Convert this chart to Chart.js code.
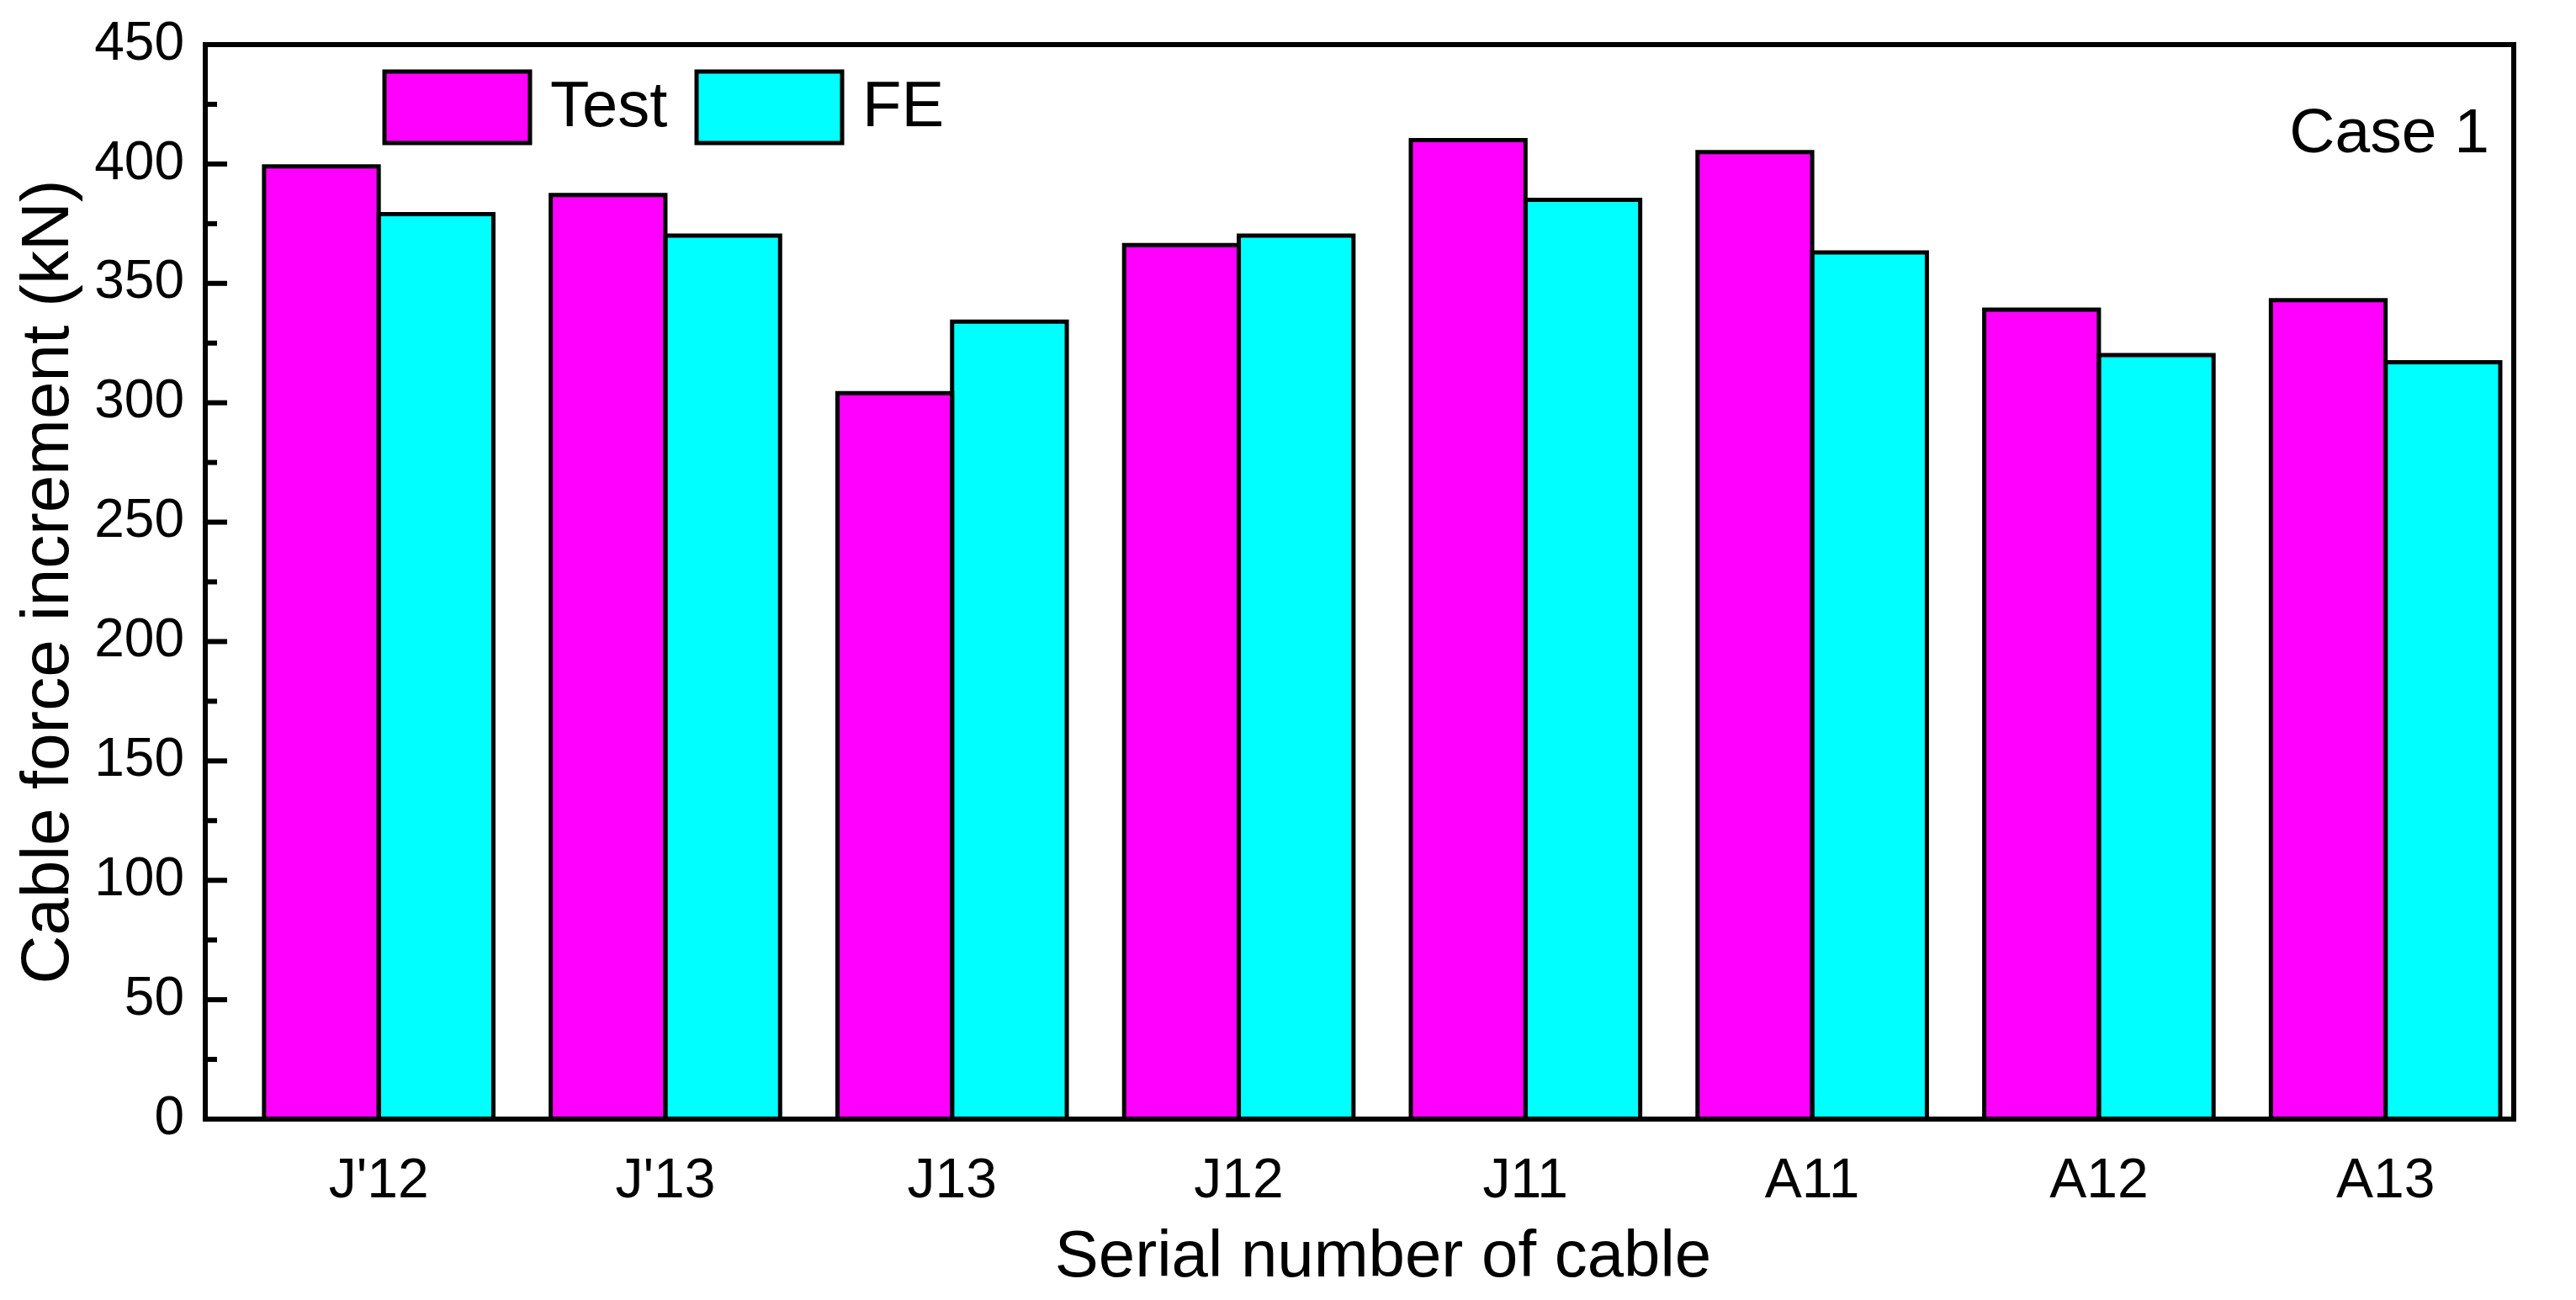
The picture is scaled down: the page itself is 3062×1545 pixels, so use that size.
<!DOCTYPE html>
<html>
<head>
<meta charset="utf-8">
<script src="https://cdn.jsdelivr.net/npm/chart.js@4.4.0/dist/chart.umd.min.js"></script>
<style>
  body { margin: 0; background: #fff; }
</style>
</head>
<body>
<canvas id="mycanvas" width="3062" height="1545"></canvas>
<script>
// data
var cables = ["J'12", "J'13", "J13", "J12", "J11", "A11", "A12", "A13"];
var testValues = [399, 387, 304, 366, 410, 405, 339, 343];
var feValues = [379, 370, 334, 370, 385, 363, 320, 317];
var yMin = 0, yMax = 450, yStep = 50;
var xTitle = 'Serial number of cable';
var yTitle = 'Cable force increment (kN)';
var caseLabel = 'Case 1';

var FONT = '"Liberation Sans", Arial, sans-serif';

// cables sit at positions 1..8 on a linear axis (the original axis is not symmetric)
function points(values) {
  return values.map(function(v, i) { return { x: i + 1, y: v }; });
}

// frame, inward ticks, bar outlines, legend, x title and case label
var decorations = {
  id: 'decorations',
  afterDatasetsDraw: function(chart) {
    var ctx = chart.ctx;
    var a = chart.chartArea;
    var xs = chart.scales.x, ys = chart.scales.y;
    ctx.save();
    ctx.strokeStyle = '#000';
    ctx.lineJoin = 'miter';

    // bar outlines (shared edge drawn once)
    ctx.lineWidth = 5;
    chart.data.datasets.forEach(function(ds, i) {
      chart.getDatasetMeta(i).data.forEach(function(bar) {
        var p = bar.getProps(['x', 'y', 'width', 'base'], true);
        var l = p.x - p.width / 2, r = p.x + p.width / 2;
        ctx.beginPath();
        ctx.moveTo(l, p.base);
        ctx.lineTo(l, p.y);
        ctx.lineTo(r, p.y);
        ctx.lineTo(r, p.base);
        ctx.stroke();
      });
    });

    // y ticks, major + minor, pointing in
    ctx.lineWidth = 6;
    for (var v = yMin; v <= yMax; v += yStep) {
      var py = ys.getPixelForValue(v);
      ctx.beginPath(); ctx.moveTo(a.left, py); ctx.lineTo(a.left + 26, py); ctx.stroke();
      if (v + yStep / 2 < yMax) {
        var pm = ys.getPixelForValue(v + yStep / 2);
        ctx.beginPath(); ctx.moveTo(a.left, pm); ctx.lineTo(a.left + 14, pm); ctx.stroke();
      }
    }
    // x ticks at the cable positions
    ctx.lineWidth = 4;
    cables.forEach(function(c, i) {
      var px = xs.getPixelForValue(i + 1);
      ctx.beginPath(); ctx.moveTo(px, a.bottom); ctx.lineTo(px, a.bottom - 28); ctx.stroke();
    });

    // frame
    ctx.lineWidth = 6;
    ctx.strokeRect(a.left, a.top, a.right - a.left, a.bottom - a.top);

    // legend
    ctx.font = '76px ' + FONT;
    ctx.textBaseline = 'middle';
    ctx.textAlign = 'left';
    chart.data.datasets.forEach(function(ds, i) {
      var bx = a.left + 213 + i * 371, by = a.top + 32;
      ctx.fillStyle = ds.backgroundColor;
      ctx.fillRect(bx, by, 173, 85);
      ctx.lineWidth = 5;
      ctx.strokeRect(bx, by, 173, 85);
      ctx.fillStyle = '#000';
      ctx.fillText(ds.label, bx + 197, by + 44);
    });

    // case label
    ctx.font = '75px ' + FONT;
    ctx.textAlign = 'right';
    ctx.textBaseline = 'alphabetic';
    ctx.fillText(caseLabel, a.right - 29, a.top + 128);

    // x axis title (sits a little right of the plot centre in the original)
    ctx.font = '78px ' + FONT;
    ctx.textAlign = 'center';
    ctx.textBaseline = 'middle';
    ctx.fillText(xTitle, a.left + 1400, a.bottom + 165);
    ctx.restore();
  }
};

var ctx = document.getElementById('mycanvas');

var chartdata = {
  datasets: [
    {
      label: 'Test',
      backgroundColor: '#ff00ff',
      borderWidth: 0,
      data: points(testValues)
    },
    {
      label: 'FE',
      backgroundColor: '#00ffff',
      borderWidth: 0,
      data: points(feValues)
    }
  ]
};

var barGraph = new Chart(ctx, {
  type: 'bar',
  data: chartdata,
  plugins: [decorations],
  options: {
    responsive: false,
    devicePixelRatio: 1,
    animation: false,
    layout: {
      padding: { left: 0, top: 53, right: 74, bottom: 0 }
    },
    datasets: {
      bar: { categoryPercentage: 0.8, barPercentage: 1.0 }
    },
    plugins: {
      legend: { display: false },
      tooltip: { enabled: false }
    },
    scales: {
      x: {
        type: 'linear',
        offset: false,
        min: 0.395,
        max: 8.447,
        grid: { display: false, drawTicks: false },
        border: { display: false },
        afterBuildTicks: function(s) {
          s.ticks = cables.map(function(c, i) { return { value: i + 1 }; });
        },
        ticks: {
          color: '#000',
          padding: 35,
          autoSkip: false,
          maxRotation: 0,
          font: { family: FONT, size: 66 },
          callback: function(value) { return cables[value - 1]; }
        },
        title: { display: false },
        afterFit: function(s) {
          s.height = 215;
          s.paddingLeft = 0;
          s.paddingRight = 0;
        }
      },
      y: {
        min: yMin,
        max: yMax,
        grid: { display: false, drawTicks: false },
        border: { display: false },
        ticks: {
          stepSize: yStep,
          color: '#000',
          padding: 25,
          font: { family: FONT, size: 64 }
        },
        title: {
          display: true,
          text: yTitle,
          color: '#000',
          padding: { top: 11, bottom: 0 },
          font: { family: FONT, size: 80 }
        },
        afterFit: function(s) {
          s.width = 244;
          s.paddingTop = 0;
          s.paddingBottom = 0;
        }
      }
    }
  }
});
</script>
</body>
</html>
